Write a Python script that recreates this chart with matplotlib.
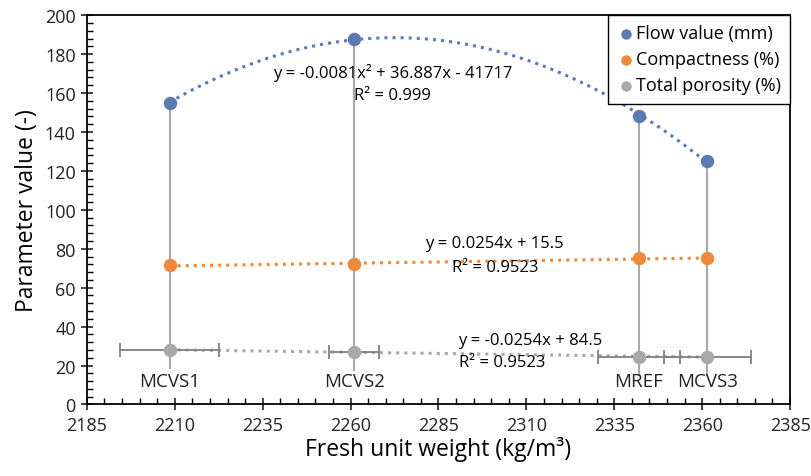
import matplotlib.pyplot as plt
from matplotlib.ticker import MultipleLocator
import numpy as np

plt.rcParams['font.family'] = ['Open Sans', 'DejaVu Sans']

mixes = ["MCVS1", "MCVS2", "MREF", "MCVS3"]
unit_weight = [2208.5, 2261.0, 2342.0, 2361.5]
flow_value = [155, 188, 148, 125]
compactness = [71.5, 72.0, 75.0, 75.2]
porosity = [28.0, 27.0, 24.5, 24.5]
weight_err = [14.0, 7.2, 11.7, 12.3]

blue = '#5b79b4'
orange = '#ed8a3c'
grey = '#a9a9a9'

fig = plt.figure(figsize=(8.12, 4.77), dpi=100)
ax = fig.add_axes([0.107, 0.150, 0.866, 0.816])

x = np.asarray(unit_weight)

# drop lines from the flow value down past the porosity point
ax.vlines(x, np.asarray(porosity) - 10, flow_value, color=grey, lw=1.5, zorder=1)

# trendlines
xs = np.linspace(x.min(), x.max(), 200)
p2 = np.polyfit(x, flow_value, 2)
ax.plot(xs, np.polyval(p2, xs), ':', color=blue, lw=2.2, zorder=2)
p1 = np.polyfit(x, compactness, 1)
ax.plot(xs, np.polyval(p1, xs), ':', color=orange, lw=2.2, zorder=2)
p3 = np.polyfit(x, porosity, 1)
ax.plot(xs, np.polyval(p3, xs), ':', color=grey, lw=2.2, zorder=2)

ax.errorbar(x, porosity, xerr=weight_err, fmt='none', ecolor='#808080',
            elinewidth=1.3, capsize=5, capthick=1.3, zorder=3)

ax.scatter(x, flow_value, s=75, color=blue, zorder=4, label='Flow value (mm)')
ax.scatter(x, compactness, s=75, color=orange, zorder=4, label='Compactness (%)')
ax.scatter(x, porosity, s=75, color=grey, zorder=4, label='Total porosity (%)')

for xi, name in zip(x, mixes):
    ax.text(xi, 12, name, ha='center', va='center', fontsize=13.5, color='#222222')

fs = 12
ax.text(2272, 171, 'y = -0.0081x² + 36.887x - 41717', ha='center', va='center', fontsize=fs)
ax.text(2272, 159, 'R² = 0.999', ha='center', va='center', fontsize=fs)
ax.text(2301, 83, 'y = 0.0254x + 15.5', ha='center', va='center', fontsize=fs)
ax.text(2301, 70.5, 'R² = 0.9523', ha='center', va='center', fontsize=fs)
ax.text(2311, 33, 'y = -0.0254x + 84.5', ha='center', va='center', fontsize=fs)
ax.text(2303, 22, 'R² = 0.9523', ha='center', va='center', fontsize=fs)

ax.set_xlim(2185, 2385)
ax.set_ylim(0, 200)
ax.xaxis.set_major_locator(MultipleLocator(25, offset=10))
ax.xaxis.set_minor_locator(MultipleLocator(5))
ax.yaxis.set_major_locator(MultipleLocator(20))
ax.yaxis.set_minor_locator(MultipleLocator(4))
ax.tick_params(which='major', direction='inout', length=9, width=1.2, labelsize=13, colors='#222222')
ax.tick_params(which='minor', direction='in', length=4, width=1.0)
ax.tick_params(axis='x', pad=4)
for s in ax.spines.values():
    s.set_linewidth(1.3)

ax.set_xlabel('Fresh unit weight (kg/m³)', fontsize=16.5, labelpad=1)
ax.set_ylabel('Parameter value (-)', fontsize=16.5)

leg = ax.legend(loc='upper right', borderaxespad=0, fontsize=13, handletextpad=0.05,
                handlelength=1.0, markerscale=0.75, fancybox=False, edgecolor='black',
                framealpha=1, borderpad=0.5, labelspacing=0.45)
leg.get_frame().set_linewidth(1.0)

fig.savefig('out.png', dpi=100)
